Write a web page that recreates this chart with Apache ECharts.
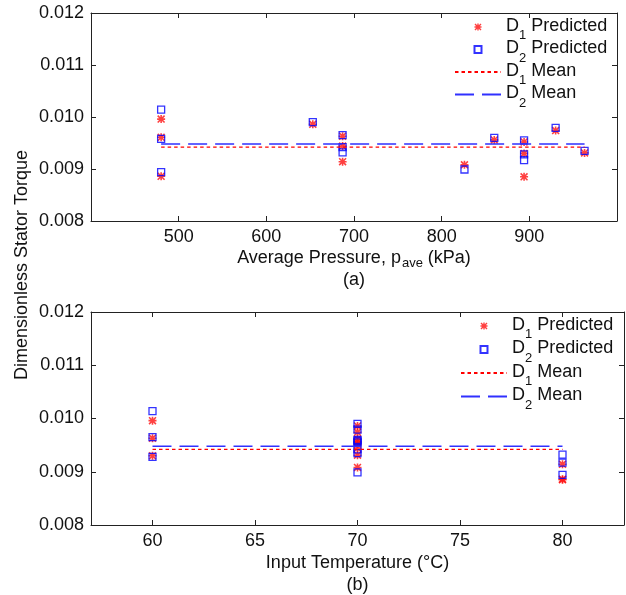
<!DOCTYPE html>
<html>
<head>
<meta charset="utf-8">
<script src="https://cdn.jsdelivr.net/npm/echarts@6/dist/echarts.min.js"></script>
<style>
html, body { margin: 0; padding: 0; background: #fff; }
#chart { width: 626px; height: 595px; }
</style>
</head>
<body>
<div id="chart"></div>
<script>
// one entry per test run
var pressure = [480, 480, 480, 653, 687, 687, 687, 826, 860, 894, 894, 894, 930, 963];
var temperature = [60, 70, 80, 70, 60, 70, 80, 70, 70, 70, 60, 80, 70, 70];
var d1Predicted = [0.00996, 0.00961, 0.00886, 0.00986, 0.00963, 0.00944, 0.00914,
                   0.00908, 0.00956, 0.00952, 0.00930, 0.00885, 0.00974, 0.00931];
var d2Predicted = [0.01014, 0.00958, 0.00894, 0.00990, 0.00965, 0.00942, 0.00932,
                   0.00899, 0.00960, 0.00955, 0.00928, 0.00917, 0.00979, 0.00935];
var d1Mean = [0.00942];
var d2Mean = [0.00948];

var pressureTicks = [500, 600, 700, 800, 900];
var temperatureTicks = [60, 65, 70, 75, 80];
var legendNames = ['D1 Predicted', 'D2 Predicted', 'D1 Mean', 'D2 Mean'];

var FONT = "'Liberation Sans', Arial, sans-serif";
var INK = '#111';
var STAR = 'path://M4,0H6V10H4Z M0,4H10V6H0Z M1.4,0L10,8.6L8.6,10L0,1.4Z M8.6,0L10,1.4L1.4,10L0,8.6Z';
var SQUARE = 'path://M0,0H10V10H0Z';

var chartDom = document.getElementById('chart');
var myChart = echarts.init(chartDom, null, { renderer: 'canvas' });

function xAxisPair(gridIndex, min, max, ticks, name, gap) {
    var common = {
        type: 'value',
        gridIndex: gridIndex,
        min: min,
        max: max,
        splitLine: { show: false },
        axisLine: { show: true, onZero: false, lineStyle: { color: '#222', width: 1 } },
        axisTick: { show: true, inside: true, length: 5, customValues: ticks, lineStyle: { color: '#222' } }
    };
    var bottom = Object.assign({}, common, {
        position: 'bottom',
        axisLabel: { customValues: ticks, margin: 7, fontSize: 18, fontFamily: FONT, color: INK },
        name: name,
        nameLocation: 'middle',
        nameGap: gap,
        nameTextStyle: {
            fontFamily: FONT,
            color: INK,
            rich: {
                t: { fontSize: 18, lineHeight: 22, verticalAlign: 'top', fontFamily: FONT, color: INK },
                s: { fontSize: 13, lineHeight: 14, padding: [8, 0, 0, 1], verticalAlign: 'top', fontFamily: FONT, color: INK }
            }
        }
    });
    var top = Object.assign({}, common, {
        position: 'top',
        axisLabel: { show: false }
    });
    return [bottom, top];
}

function yAxisPair(gridIndex) {
    var common = {
        type: 'value',
        gridIndex: gridIndex,
        min: 0.008,
        max: 0.012,
        interval: 0.001,
        splitLine: { show: false },
        axisLine: { show: true, onZero: false, lineStyle: { color: '#222', width: 1 } },
        axisTick: { show: true, inside: true, length: 5, lineStyle: { color: '#222' } }
    };
    var left = Object.assign({}, common, {
        position: 'left',
        axisLabel: {
            margin: 7, fontSize: 18, fontFamily: FONT, color: INK,
            formatter: function (v) { return v.toFixed(3); }
        }
    });
    var right = Object.assign({}, common, {
        position: 'right',
        axisLabel: { show: false }
    });
    return [left, right];
}

function buildSeries(xs, xIndex, yIndex) {
    var p1 = xs.map(function (x, i) { return [x, d1Predicted[i]]; });
    var p2 = xs.map(function (x, i) { return [x, d2Predicted[i]]; });
    var lo = Math.min.apply(null, xs);
    var hi = Math.max.apply(null, xs);
    return [{
        name: 'D1 Predicted',
        type: 'scatter',
        xAxisIndex: xIndex, yAxisIndex: yIndex,
        data: p1,
        symbol: STAR,
        symbolSize: 8,
        itemStyle: { color: '#ff1010' }
    }, {
        name: 'D2 Predicted',
        type: 'scatter',
        xAxisIndex: xIndex, yAxisIndex: yIndex,
        data: p2,
        symbol: SQUARE,
        symbolSize: 7,
        itemStyle: { color: 'rgba(0,0,0,0)', borderColor: '#0000ff', borderWidth: 1.3 }
    }, {
        name: 'D1 Mean',
        type: 'line',
        xAxisIndex: xIndex, yAxisIndex: yIndex,
        data: [[lo, d1Mean[0]], [hi, d1Mean[0]]],
        symbol: 'none',
        // transparent item colour keeps the legend icon a bare line
        itemStyle: { color: 'rgba(0,0,0,0)', borderWidth: 0 },
        lineStyle: { color: '#ff0000', width: 1.2, type: [3.5, 3] }
    }, {
        name: 'D2 Mean',
        type: 'line',
        xAxisIndex: xIndex, yAxisIndex: yIndex,
        data: [[lo, d2Mean[0]], [hi, d2Mean[0]]],
        symbol: 'none',
        itemStyle: { color: 'rgba(0,0,0,0)', borderWidth: 0 },
        lineStyle: { color: '#3030ff', width: 1.5, type: [19, 8] }
    }];
}

function legendAt(left, top, gap) {
    return {
        orient: 'vertical',
        left: left,
        top: top,
        padding: 0,
        itemWidth: 46,
        itemHeight: 7,
        itemGap: gap,
        selectedMode: false,
        data: legendNames,
        formatter: function (name) {
            // "D1 Predicted" -> D with subscript 1
            return '{m|D}{s|' + name.charAt(1) + '}{m| ' + name.slice(3) + '}';
        },
        textStyle: {
            rich: {
                m: { fontSize: 18, lineHeight: 20, verticalAlign: 'top', fontFamily: FONT, color: INK },
                s: { fontSize: 13, lineHeight: 14, padding: [12, 0, 0, 0], verticalAlign: 'top', fontFamily: FONT, color: INK }
            }
        }
    };
}

var xTop = xAxisPair(0, 400, 1000, pressureTicks,
    '{t|Average Pressure, p}{s|ave}{t| (kPa)}\n{t|(a)}', 28);
var xBottom = xAxisPair(1, 57, 83, temperatureTicks,
    '{t|Input Temperature (\u00B0C)}\n{t|(b)}', 29);

var option = {
    animation: false,
    backgroundColor: '#fff',
    grid: [
        { left: 91, top: 13, width: 526, height: 208 },
        { left: 91, top: 312, width: 533, height: 213 }
    ],
    xAxis: xTop.concat(xBottom),
    yAxis: yAxisPair(0).concat(yAxisPair(1)),
    legend: [legendAt(454, 17, -2.5), legendAt(460, 316, -1.5)],
    graphic: [{
        type: 'text',
        x: 22,
        y: 265,
        rotation: Math.PI / 2,
        style: {
            text: 'Dimensionless Stator Torque',
            font: '18px ' + FONT,
            fill: INK,
            align: 'center',
            verticalAlign: 'middle'
        }
    }],
    series: buildSeries(pressure, 0, 0).concat(buildSeries(temperature, 2, 2))
};

myChart.setOption(option);
</script>
</body>
</html>
